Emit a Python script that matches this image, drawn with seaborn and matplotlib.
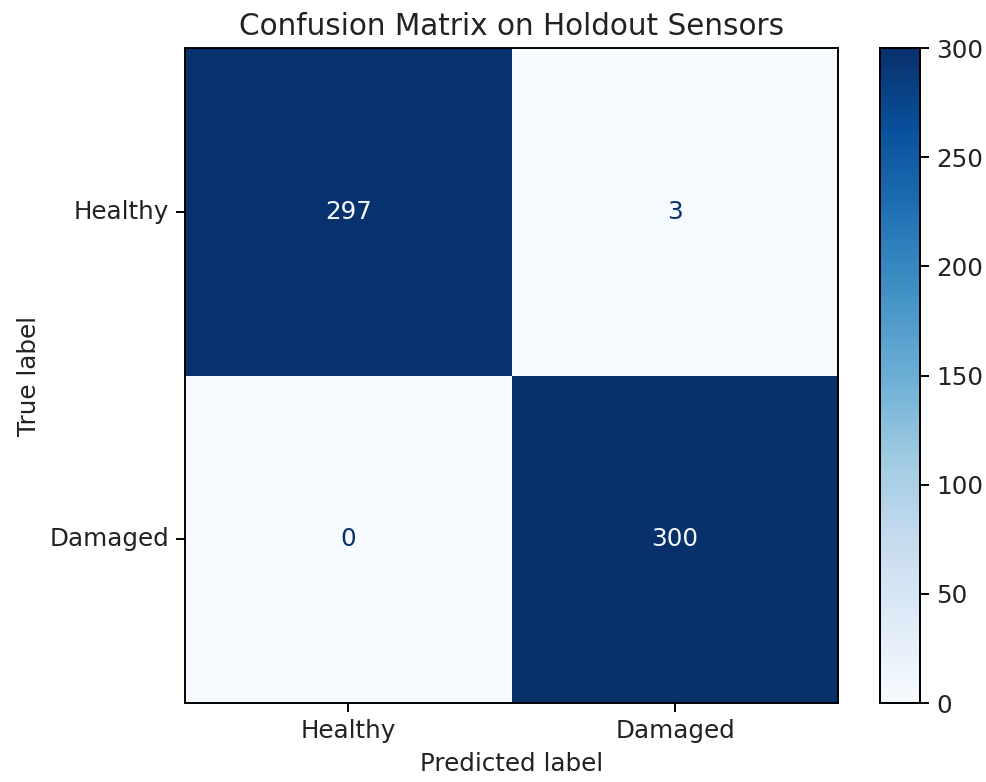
import numpy as np
import seaborn as sns
from matplotlib import pyplot as plt

labels = ["Healthy", "Damaged"]
counts = np.array([[297, 3],
                   [0, 300]])

sns.set_style("white")
plt.rcParams["font.family"] = ["DejaVu Sans"]

fig = plt.figure(figsize=(6.403, 5.078), dpi=154)
ax = fig.add_axes([0.1876, 0.101, 0.6627, 0.8376])
cax = fig.add_axes([0.8925, 0.101, 0.0406, 0.8376])

cmap = plt.get_cmap("Blues")
sns.heatmap(counts, ax=ax, cbar_ax=cax, cmap=cmap, vmin=0, vmax=300,
            annot=True, fmt="d", square=False, linewidths=0,
            xticklabels=labels, yticklabels=labels, annot_kws={"fontsize": 11.5})

# sklearn-style text colours: light text on dark cells, dark text on light cells
thresh = (counts.max() + counts.min()) / 2
for txt, val in zip(ax.texts, counts.flatten()):
    txt.set_color(cmap(0.0) if val >= thresh else cmap(1.0))

for s in list(ax.spines.values()) + list(cax.spines.values()):
    s.set_visible(True)
    s.set_color("black")
    s.set_linewidth(0.9)

ax.tick_params(axis="both", which="both", length=4, width=0.9, left=True, bottom=True,
               labelsize=11.5, color="black", labelcolor="#222222")
ax.set_yticklabels(labels, rotation=0)
ax.set_xticklabels(labels, rotation=0)
ax.set_xlabel("Predicted label", fontsize=11.5, color="#222222")
ax.set_ylabel("True label", fontsize=11.5, color="#222222")
ax.set_title("Confusion Matrix on Holdout Sensors", fontsize=13.8, color="#222222")

cax.set_yticks([0, 50, 100, 150, 200, 250, 300])
cax.tick_params(labelsize=11.5, length=4, width=0.9, right=True, color="black",
                labelcolor="#222222")

fig.savefig("out.png", dpi=154)
